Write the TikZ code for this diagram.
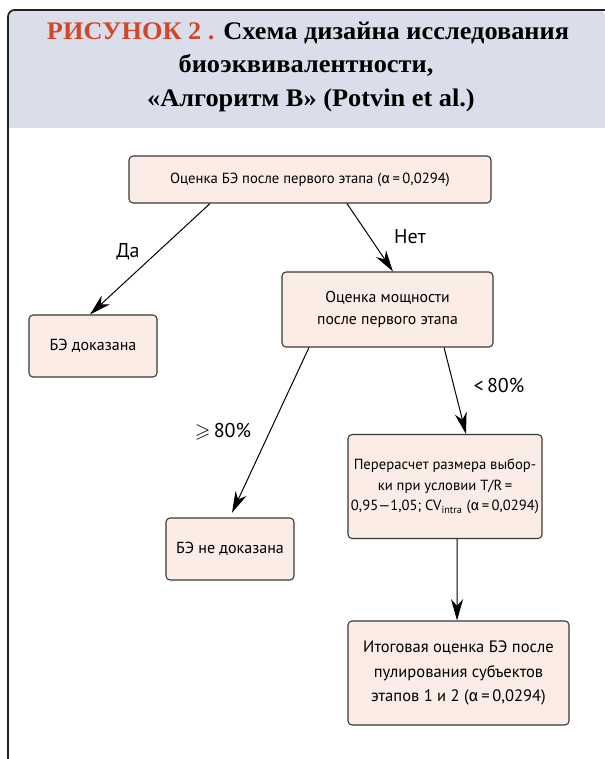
\documentclass[tikz,border=0pt]{standalone}
\usepackage{fontspec}
\usepackage{amssymb}
\usetikzlibrary{arrows.meta}
\newfontfamily\boxfont{PT Sans}
\newfontfamily\grfont{Fira Sans}
\newfontfamily\titlefont[FakeStretch=1.04]{Liberation Serif}
\newcommand\alf{{\grfont α}}
\definecolor{headerfill}{HTML}{D9DEEA}
\definecolor{boxfill}{HTML}{FBECE5}
\definecolor{titlered}{HTML}{D4462A}
\definecolor{framecol}{HTML}{222222}
\tikzset{
  box/.style={draw=framecol!90, fill=boxfill, rounded corners=3pt, line width=0.8pt,
    inner sep=0pt, align=center, font=\boxfont\fontsize{12}{17}\selectfont},
  lbl/.style={font=\boxfont\fontsize{15}{18}\selectfont, inner sep=0pt},
  ttl/.style={font=\titlefont\bfseries\fontsize{19}{25}\selectfont, anchor=base, inner sep=0pt},
  arr/.style={line width=0.75pt, -{Stealth[length=16pt,width=9pt,inset=5pt]}},
}
\begin{document}
\begin{tikzpicture}[x=0.75pt,y=-0.75pt]
\useasboundingbox (0,0) rectangle (605,759);
% header
\fill[headerfill] (8,128) [rounded corners=5pt] -- (8,10) -- (605,10) [sharp corners] -- (605,128) -- cycle;
\draw[framecol, line width=1.3pt] (8,759) [rounded corners=5pt] -- (8,10) -- (606,10);
\node[ttl] (t1) at (308,40) {\textcolor{titlered}{РИСУНОК 2 .} Схема дизайна исследования};
\node[ttl] (t2) at (306,73) {биоэквивалентности,};
\node[ttl] (t3) at (311,107) {«Алгоритм B» (Potvin et al.)};
% boxes
\node[box, minimum width=271.5pt, minimum height=35.25pt, font=\boxfont\fontsize{11}{15}\selectfont] (b1) at (310,179.5)
  {Оценка БЭ после первого этапа (\alf\,=\,0,0294)};
\node[box, minimum width=96pt, minimum height=46.5pt] (b2) at (93,346) {БЭ доказана};
\node[box, minimum width=158.25pt, minimum height=56.25pt, font=\boxfont\fontsize{11.8}{17}\selectfont] (b3) at (387.5,309.5)
  {Оценка мощности\\после первого этапа};
\node[box, minimum width=96pt, minimum height=46.5pt] (b4) at (230,549) {БЭ не доказана};
\node[box, minimum width=145.5pt, minimum height=78pt, font=\boxfont\fontsize{11}{15.5}\selectfont] (b5) at (445,486.5)
  {Перерасчет размера выбор-\\ки при условии T/R\,=\\0,95—1,05; CV\textsubscript{intra} (\alf\,=\,0,0294)};
\node[box, minimum width=165.75pt, minimum height=78pt, font=\boxfont\fontsize{12.4}{18.4}\selectfont] (b6) at (458.5,673)
  {Итоговая оценка БЭ после\\пулирования субъектов\\этапов 1 и 2 (\alf\,=\,0,0294)};
% labels
\node[lbl] (l1) at (128,252) {Да};
\node[lbl] (l2) at (410,237) {Нет};
\node[lbl] (l3) at (223,432) {$\geqslant$\,80\%};
\node[lbl] (l4) at (499,385) {<\,80\%};
% arrows
\draw[arr] ([xshift=-75pt]b1.south) -- ([xshift=-2.25pt]b2.north);
\draw[arr] ([xshift=27.75pt]b1.south) -- ([xshift=4.1pt]b3.north);
\draw[arr] ([xshift=-58.9pt]b3.south) -- ([xshift=1.5pt,yshift=3.5pt]b4.north);
\draw[arr] ([xshift=42.4pt]b3.south) -- ([xshift=15.75pt]b5.north);
\draw[arr] ([xshift=9pt]b5.south) -- ([xshift=-1.1pt]b6.north);
\end{tikzpicture}
\end{document}
